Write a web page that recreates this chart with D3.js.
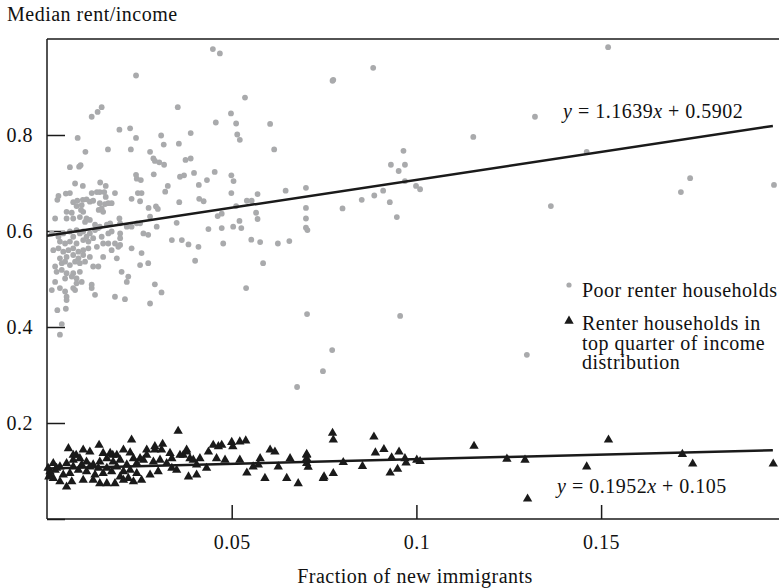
<!DOCTYPE html>
<html><head><meta charset="utf-8">
<script src="https://cdn.jsdelivr.net/npm/d3@7/dist/d3.min.js"></script>
<style>
html,body{margin:0;padding:0;background:#fff;}
text{font-family:"Liberation Serif","Times New Roman",serif;font-size:20px;letter-spacing:0.5px;fill:#111;}
</style></head>
<body><svg id="c" width="779" height="588"></svg>
<script>
// ---- data ----
const poorHouseholds = [
[0.0449,0.979],[0.0468,0.970],[0.0241,0.924],[0.0536,0.878],[0.0121,0.838],[0.0137,0.848],[0.0148,0.858],[0.0354,0.858],[0.0498,0.845],[0.0196,0.811],
[0.0225,0.814],[0.0457,0.826],[0.0512,0.824],[0.0083,0.794],[0.0241,0.794],[0.0309,0.799],[0.0389,0.804],[0.0515,0.801],[0.0522,0.790],[0.0316,0.780],
[0.0357,0.782],[0.0104,0.765],[0.0165,0.770],[0.0227,0.770],[0.0279,0.765],[0.0288,0.751],[0.0292,0.746],[0.0304,0.743],[0.0317,0.738],[0.0375,0.748],
[0.0389,0.751],[0.0062,0.733],[0.0087,0.734],[0.0091,0.737],[0.0289,0.718],[0.0241,0.717],[0.0243,0.709],[0.0254,0.706],[0.0360,0.713],[0.0371,0.716],
[0.0398,0.721],[0.0454,0.723],[0.0499,0.716],[0.0505,0.704],[0.0076,0.699],[0.0097,0.694],[0.0144,0.701],[0.0159,0.694],[0.0327,0.694],[0.0411,0.696],
[0.0433,0.706],[0.0499,0.679],[0.0031,0.673],[0.0028,0.665],[0.0051,0.678],[0.0062,0.679],[0.0121,0.679],[0.0135,0.681],[0.0143,0.681],[0.0155,0.681],
[0.0159,0.671],[0.0184,0.679],[0.0246,0.679],[0.0256,0.679],[0.0320,0.682],[0.0229,0.667],[0.0252,0.662],[0.0358,0.660],[0.0412,0.667],[0.0424,0.662],
[0.0071,0.660],[0.0082,0.663],[0.0097,0.665],[0.0107,0.666],[0.0116,0.661],[0.0125,0.663],[0.0143,0.658],[0.0157,0.656],[0.0166,0.658],[0.0175,0.658],
[0.0080,0.652],[0.0094,0.654],[0.0148,0.647],[0.0140,0.644],[0.0152,0.640],[0.0053,0.640],[0.0067,0.638],[0.0092,0.644],[0.0098,0.640],[0.0275,0.648],
[0.0295,0.651],[0.0300,0.646],[0.0473,0.636],[0.0462,0.631],[0.0512,0.652],[0.0022,0.626],[0.0071,0.626],[0.0089,0.629],[0.0107,0.626],[0.0196,0.626],
[0.0279,0.630],[0.0053,0.626],[0.0103,0.619],[0.0116,0.623],[0.0130,0.613],[0.0143,0.609],[0.0162,0.613],[0.0171,0.616],[0.0198,0.616],[0.0216,0.609],
[0.0229,0.609],[0.0243,0.616],[0.0252,0.616],[0.0297,0.609],[0.0351,0.617],[0.0437,0.604],[0.0473,0.606],[0.0504,0.609],[0.0521,0.621],[0.0013,0.595],
[0.0031,0.588],[0.0044,0.595],[0.0062,0.599],[0.0071,0.588],[0.0080,0.602],[0.0089,0.595],[0.0098,0.599],[0.0107,0.588],[0.0116,0.595],[0.0130,0.602],
[0.0139,0.606],[0.0035,0.578],[0.0049,0.574],[0.0062,0.578],[0.0080,0.574],[0.0098,0.581],[0.0112,0.578],[0.0125,0.585],[0.0148,0.588],[0.0166,0.595],
[0.0175,0.599],[0.0198,0.595],[0.0198,0.585],[0.0184,0.574],[0.0198,0.571],[0.0017,0.560],[0.0031,0.564],[0.0044,0.557],[0.0058,0.560],[0.0071,0.564],
[0.0085,0.557],[0.0098,0.560],[0.0112,0.564],[0.0135,0.567],[0.0152,0.574],[0.0166,0.574],[0.0175,0.560],[0.0193,0.567],[0.0035,0.543],[0.0053,0.546],
[0.0071,0.550],[0.0085,0.543],[0.0098,0.550],[0.0116,0.546],[0.0152,0.546],[0.0189,0.543],[0.0229,0.564],[0.0256,0.554],[0.0274,0.592],[0.0261,0.595],
[0.0022,0.526],[0.0040,0.533],[0.0049,0.536],[0.0062,0.529],[0.0076,0.536],[0.0089,0.533],[0.0103,0.536],[0.0125,0.526],[0.0139,0.526],[0.0202,0.515],
[0.0252,0.529],[0.0274,0.533],[0.0026,0.515],[0.0040,0.519],[0.0053,0.512],[0.0071,0.512],[0.0089,0.515],[0.0049,0.501],[0.0067,0.505],[0.0080,0.501],
[0.0094,0.494],[0.0080,0.491],[0.0022,0.494],[0.0035,0.481],[0.0013,0.477],[0.0049,0.474],[0.0053,0.463],[0.0053,0.456],[0.0071,0.481],[0.0076,0.477],
[0.0121,0.481],[0.0121,0.488],[0.0130,0.467],[0.0184,0.463],[0.0211,0.458],[0.0216,0.494],[0.0220,0.505],[0.0292,0.489],[0.0310,0.472],[0.0279,0.449],
[0.0028,0.435],[0.0051,0.438],[0.0040,0.406],[0.0035,0.384],[0.0338,0.581],[0.0365,0.581],[0.0383,0.572],[0.0410,0.567],[0.0401,0.538],[0.0477,0.574],
[0.0883,0.940],[0.0775,0.915],[0.0773,0.913],[0.0604,0.823],[0.1154,0.796],[0.0615,0.770],[0.0965,0.767],[0.0931,0.738],[0.0969,0.738],[0.0952,0.725],
[0.0969,0.704],[0.0999,0.694],[0.1010,0.687],[0.0701,0.690],[0.0646,0.684],[0.0570,0.677],[0.0910,0.684],[0.0886,0.674],[0.0852,0.665],[0.0928,0.660],
[0.0541,0.663],[0.0554,0.663],[0.0701,0.648],[0.0800,0.647],[0.0566,0.638],[0.0570,0.625],[0.0701,0.626],[0.0947,0.629],[0.0526,0.606],[0.0701,0.607],
[0.0705,0.602],[0.0553,0.582],[0.0577,0.577],[0.0625,0.574],[0.0656,0.579],
[0.1321,0.838],[0.1519,0.983],[0.1461,0.765],[0.1364,0.652],[0.1716,0.681],[0.1741,0.710],[0.1968,0.696],[0.1299,0.342],[0.0956,0.423],[0.0772,0.352],
[0.0747,0.308],[0.0677,0.275],[0.0704,0.427],[0.0539,0.481],[0.0585,0.533]
];
const topQuarterHouseholds = [
[0.0058,0.147],[0.0141,0.154],[0.0229,0.165],[0.0355,0.183],[0.0313,0.156],[0.0292,0.144],[0.0225,0.138],[0.0171,0.137],[0.0178,0.133],[0.0079,0.133],
[0.0450,0.154],[0.0464,0.151],[0.0473,0.154],[0.0500,0.160],[0.0503,0.151],[0.0522,0.161],[0.0538,0.163],[0.0773,0.179],[0.0775,0.165],[0.0604,0.144],
[0.0617,0.140],[0.0703,0.135],[0.0703,0.126],[0.0658,0.126],[0.0577,0.126],[0.0626,0.109],[0.0649,0.085],[0.0680,0.074],[0.0748,0.085],[0.0775,0.095],
[0.0590,0.085],[0.0541,0.096],[0.0558,0.109],[0.0572,0.113],[0.0522,0.123],[0.0482,0.123],[0.0459,0.126],[0.0437,0.140],[0.0414,0.126],[0.0405,0.113],
[0.0378,0.140],[0.0369,0.133],[0.0387,0.126],[0.0396,0.123],[0.0338,0.126],[0.0324,0.116],[0.0306,0.123],[0.0288,0.119],[0.0270,0.133],[0.0261,0.123],
[0.0252,0.126],[0.0243,0.116],[0.0383,0.088],[0.0405,0.092],[0.0432,0.106],[0.0351,0.102],[0.0338,0.106],[0.0301,0.099],[0.0279,0.092],[0.0256,0.081],
[0.0234,0.078],[0.0220,0.085],[0.0207,0.081],[0.0184,0.074],[0.0162,0.074],[0.0143,0.074],[0.0125,0.081],[0.0098,0.081],[0.0067,0.078],[0.0053,0.067],
[0.0035,0.078],[0.0017,0.085],[0.0008,0.092],[0.0022,0.102],[0.0008,0.099],[0.0035,0.109],[0.0053,0.116],[0.0071,0.123],[0.0089,0.126],[0.0107,0.119],
[0.0125,0.113],[0.0143,0.119],[0.0162,0.126],[0.0179,0.119],[0.0198,0.123],[0.0216,0.113],[0.0234,0.126],[0.0175,0.099],[0.0152,0.095],[0.0130,0.092],
[0.0107,0.099],[0.0085,0.102],[0.0062,0.095],[0.0044,0.092],[0.0026,0.106],[0.0017,0.116],[0.0071,0.109],[0.0094,0.113],[0.0116,0.109],[0.0139,0.106],
[0.0162,0.106],[0.0189,0.109],[0.0207,0.099],[0.0225,0.102],[0.0243,0.095],[0.0198,0.088],[0.0071,0.133],[0.0098,0.144],[0.0116,0.140],[0.0152,0.137],
[0.0189,0.133],[0.0207,0.144],[0.0270,0.144],[0.0292,0.151],[0.0310,0.144],[0.0333,0.137],[0.0360,0.133],[0.0378,0.144],[0.0703,0.133],[0.0703,0.116],
[0.0707,0.108],[0.0802,0.118],[0.0854,0.110],[0.0885,0.171],[0.0889,0.138],[0.0912,0.145],[0.0953,0.140],[0.0933,0.128],[0.0969,0.126],[0.0972,0.117],
[0.1001,0.123],[0.1010,0.120],[0.0949,0.104],[0.0929,0.096],[0.0750,0.088],[0.1156,0.152],[0.1245,0.125],[0.1294,0.123],[0.1461,0.109],[0.1520,0.165],
[0.1720,0.135],[0.1748,0.115],[0.1966,0.115],[0.1301,0.042],[0.0003,0.106],[0.0005,0.088]
];
const poorFit = {slope: 1.1639, intercept: 0.5902};
const topFit = {slope: 0.1952, intercept: 0.105};
const fitRange = [0, 0.1965];
const xTicks = [0.05, 0.1, 0.15];
const xTickLabels = ["0.05", "0.1", "0.15"];
const yTicks = [0, 0.2, 0.4, 0.6, 0.8];
const yTickLabels = ["", "0.2", "0.4", "0.6", "0.8"];
const legendLabels = ["Poor renter households", ["Renter households in", "top quarter of income", "distribution"]];

// ---- layout ----
const W = 779, H = 588;
const m = {left: 47, right: 0, top: 39, bottom: 69};
const svg = d3.select("#c");
const x = d3.scaleLinear().domain([0, (W - m.left) / 3694]).range([m.left, W - m.right]);
const y = d3.scaleLinear().domain([0, 1]).range([H - m.bottom, m.top]);
const ink = "#1a1a1a", gray = "#a9aaac";

// frame
svg.append("line").attr("x1", m.left).attr("x2", W).attr("y1", m.top).attr("y2", m.top)
  .attr("stroke", ink).attr("stroke-width", 1.5);

const xAxis = svg.append("g").attr("transform", `translate(0,${y(0)})`)
  .call(d3.axisBottom(x).tickValues(xTicks).tickFormat((d, i) => xTickLabels[i]).tickSize(-14).tickSizeOuter(0).tickPadding(16));
const yAxis = svg.append("g").attr("transform", `translate(${m.left},0)`)
  .call(d3.axisLeft(y).tickValues(yTicks).tickFormat((d, i) => yTickLabels[i]).tickSize(-18).tickSizeOuter(0).tickPadding(14));
[xAxis, yAxis].forEach(g => {
  g.select(".domain").remove();
  g.selectAll("line").attr("stroke", ink).attr("stroke-width", 1.5);
  g.selectAll("text").attr("font-size", null).attr("font-family", null).attr("fill", ink);
  g.attr("font-size", null).attr("font-family", null);
});
svg.append("line").attr("x1", m.left).attr("x2", W).attr("y1", y(0)).attr("y2", y(0))
  .attr("stroke", ink).attr("stroke-width", 1.5);
svg.append("line").attr("x1", m.left).attr("x2", m.left).attr("y1", m.top).attr("y2", y(0))
  .attr("stroke", ink).attr("stroke-width", 1.5);

// points
svg.append("g").selectAll("circle").data(poorHouseholds).join("circle")
  .attr("cx", d => x(d[0])).attr("cy", d => y(d[1])).attr("r", 2.9).attr("fill", gray);

const tri = d3.symbol().type(d3.symbolTriangle).size(38);
svg.append("g").selectAll("path").data(topQuarterHouseholds).join("path")
  .attr("d", tri).attr("transform", d => `translate(${x(d[0])},${y(d[1])})`).attr("fill", ink);

// regression lines
const line = d3.line().x(d => x(d[0])).y(d => y(d[1]));
[poorFit, topFit].forEach(f => {
  svg.append("path").datum(fitRange.map(v => [v, f.slope * v + f.intercept]))
    .attr("d", line).attr("stroke", ink).attr("stroke-width", 2.5).attr("fill", "none");
});

// equations
function eq(xp, yp, f) {
  const t = svg.append("text").attr("x", xp).attr("y", yp);
  t.append("tspan").attr("font-style", "italic").text("y");
  t.append("tspan").text(` = ${f.slope}`);
  t.append("tspan").attr("font-style", "italic").text("x");
  t.append("tspan").text(` + ${f.intercept}`);
}
eq(563, 118, poorFit);
eq(557, 493, topFit);

// titles
svg.append("text").attr("x", 7).attr("y", 21).text("Median rent/income");
svg.append("text").attr("x", 415).attr("y", 583).attr("text-anchor", "middle").text("Fraction of new immigrants");

// legend
svg.append("circle").attr("cx", 569).attr("cy", 285).attr("r", 2.6).attr("fill", gray);
svg.append("text").attr("x", 582).attr("y", 297).text(legendLabels[0]);
svg.append("path").attr("d", tri).attr("transform", "translate(569,321)").attr("fill", ink);
const lt = svg.append("text").attr("x", 582).attr("y", 330);
legendLabels[1].forEach((s, i) => lt.append("tspan").attr("x", 582).attr("dy", i === 0 ? 0 : 19.5).text(s));
</script></body></html>
